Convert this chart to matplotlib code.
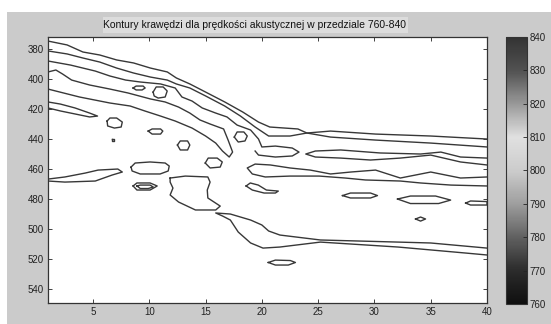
import matplotlib
matplotlib.use("Agg")
import matplotlib.pyplot as plt
from matplotlib.colors import LinearSegmentedColormap, Normalize
from matplotlib.cm import ScalarMappable
from matplotlib.patches import Rectangle

TITLE = "Kontury krawędzi dla prędkości akustycznej w przedziale 760-840"
x_ticks = [5, 10, 15, 20, 25, 30, 35, 40]
y_ticks = [380, 400, 420, 440, 460, 480, 500, 520, 540]
cbar_ticks = [760, 770, 780, 790, 800, 810, 820, 830, 840]
cbar_grays = [0.06, 0.17, 0.38, 0.62, 0.80, 0.88, 0.60, 0.32, 0.20]

# open contour lines, (column, depth) pairs
ridge_1 = [(1.0, 374.7), (2.7, 377.3), (4.1, 382), (5.6, 384), (7.1, 387.3), (8.6, 389.3),
           (10.1, 392.7), (11.6, 395.3), (12.4, 399.3), (13.6, 403.3), (15.0, 408.7),
           (16.7, 415.3), (18.3, 422), (19.7, 428.7), (20.7, 432), (23.2, 433.3),
           (24.0, 436), (26.1, 438.7), (30.1, 440.7), (35.0, 442.7), (40.0, 445.3)]
ridge_2 = [(1.0, 381.3), (2.7, 383.3), (4.1, 386), (5.6, 388.7), (7.1, 392.7), (8.6, 396),
           (10.1, 398.7), (11.6, 400.7), (12.4, 403.3), (13.6, 406), (15.0, 411.3),
           (16.7, 418), (18.1, 424.7), (19.4, 432), (20.6, 438), (22.5, 438), (24.0, 436),
           (26.1, 434.7), (30.1, 436.7), (35.0, 438), (40.0, 440)]
ridge_3 = [(1.0, 388), (3.0, 390.7), (5.2, 394.7), (6.5, 398), (7.9, 400.7), (9.2, 402),
           (11.0, 403.3), (12.3, 406), (12.9, 412), (13.8, 414.7), (14.7, 419.3),
           (15.9, 422.7), (16.9, 425.3), (17.8, 430.7), (19.0, 434), (19.7, 440),
           (20.0, 445.3), (21.2, 444.7), (22.7, 446), (23.3, 448.7), (22.7, 451.3),
           (21.2, 452), (19.7, 450.7), (19.4, 448)]
ridge_4 = [(1.0, 395.3), (1.7, 394), (2.3, 396.7), (3.1, 400.7), (4.7, 404), (6.5, 406.7),
           (8.1, 409.3), (10.1, 413.3), (11.4, 415.3), (12.6, 418.7), (13.6, 422.7),
           (14.5, 427.3), (15.4, 430), (16.6, 433.3), (17.0, 440.7), (17.4, 448.7),
           (17.1, 452), (16.5, 448), (15.9, 442.7), (15.0, 438), (13.8, 432.7),
           (12.3, 428), (11.0, 424.7), (9.6, 421.3), (8.3, 418), (6.5, 416),
           (3.8, 412), (1.0, 406.7)]
band_460 = [(40.0, 457.3), (37.65, 455.3), (35.0, 450.7), (32.3, 452.7), (29.65, 454),
            (27.0, 452.7), (24.75, 452), (23.9, 450), (24.75, 448), (27.0, 447.3),
            (30.5, 449.3), (34.1, 450), (35.9, 448.7), (37.65, 452), (40.0, 452.7)]
band_470 = [(40.0, 471.3), (36.8, 470.7), (34.1, 469.3), (32.3, 468), (29.2, 467.3),
            (27.4, 466), (25.1, 464.7), (22.5, 464.7), (20.3, 465.3), (19.15, 463.3),
            (18.7, 459.3), (19.4, 456.7), (20.75, 457.3), (22.5, 459.3), (24.3, 460.7),
            (26.1, 463.3), (27.9, 462), (30.1, 460.7), (32.3, 466), (35.0, 462),
            (37.65, 466), (40.0, 465.3)]
band_510 = [(40.0, 517.3), (38.1, 516), (32.1, 512), (25.2, 508.7), (21.6, 512),
            (20.1, 512.7), (19.0, 509.3), (17.9, 502), (17.2, 494), (16.5, 491.3),
            (15.9, 489.3), (17.2, 490), (19.0, 494), (20.0, 497.3), (20.6, 501.3),
            (21.6, 504), (25.2, 507.3), (32.1, 508.7), (35.0, 509.3), (40.0, 512.7)]

# closed contours (islands)
isl_left_420 = [(1.0, 415.3), (2.1, 416.7), (3.4, 419.3), (4.7, 422.7), (5.4, 424.7),
                (4.7, 425.3), (3.4, 423.3), (2.1, 421.3), (1.0, 419.3)]
isl_a = [(6.25, 428), (6.5, 426), (7.1, 426), (7.6, 428.7), (7.5, 432), (6.9, 432.7), (6.3, 431.3)]
isl_b = [(9.9, 434.7), (10.25, 433.3), (11.0, 433.3), (11.2, 434.7), (11.0, 436.7), (10.25, 436.7)]
isl_dot = [(6.7, 440.3), (6.9, 440.3), (6.9, 441), (6.7, 441)]
isl_c = [(12.5, 444), (12.75, 441.3), (13.4, 441.3), (13.6, 444), (13.4, 447.3), (12.75, 447.3)]
isl_d = [(8.56, 406), (8.83, 404.7), (9.45, 404.7), (9.63, 406), (9.36, 407.3), (8.83, 407.3)]
isl_e = [(10.34, 408.7), (10.61, 405.3), (11.23, 405.3), (11.59, 408), (11.41, 412),
         (10.79, 412.7), (10.43, 411.3)]
isl_f = [(17.55, 438.7), (17.8, 435.3), (18.4, 435.3), (18.7, 438), (18.5, 441.3), (17.9, 442)]
isl_g = [(14.97, 456), (15.23, 452.7), (16.03, 452.7), (16.48, 455.3), (16.3, 458.7), (15.4, 459.3)]
isl_h = [(8.38, 458.7), (8.74, 456), (10.07, 455.3), (11.41, 456), (11.77, 458),
         (11.68, 461.3), (10.96, 463.3), (9.19, 463.3), (8.47, 461.3)]
isl_ring_out = [(8.56, 471.3), (8.9, 469.3), (10.07, 469.3), (10.7, 471.3), (10.07, 474), (8.9, 474)]
isl_ring_in = [(8.9, 471.3), (9.2, 470.7), (10.07, 470.7), (10.35, 472), (9.9, 473), (9.2, 473)]
isl_left_465 = [(1.0, 466.7), (2.5, 465.3), (4.3, 462.7), (5.45, 460.7), (7.2, 460), (7.6, 462),
                (6.7, 464), (5.2, 468), (2.5, 468.7), (1.0, 468)]
isl_big = [(11.85, 466), (13.2, 464.7), (15.2, 465.3), (15.4, 468.7), (15.15, 474),
           (15.2, 479.3), (16.3, 484.7), (15.9, 487.3), (14.1, 487.3), (12.6, 482),
           (11.85, 477.3), (12.1, 472.7), (11.85, 468.7)]
isl_i = [(18.6, 471.3), (18.97, 469.3), (19.68, 470.7), (20.4, 474), (21.46, 474.7),
         (21.2, 476), (20.2, 476), (19.15, 474)]
isl_j = [(27.16, 477.7), (27.87, 476), (29.65, 476), (30.27, 477.7), (29.65, 479.3), (27.87, 479.3)]
isl_k = [(32.05, 480), (33.2, 478), (35.43, 478), (36.77, 480.7), (35.7, 483), (33.2, 483)]
isl_edge = [(38.1, 482.7), (38.54, 481.3), (40.0, 481.7), (40.0, 484), (38.54, 484)]
isl_l = [(33.65, 493.3), (34.1, 492), (34.54, 493.3), (34.1, 494.7)]
isl_m = [(20.57, 522.3), (21.2, 520.7), (22.53, 521), (22.98, 522.3), (22.35, 524), (21.2, 524)]

open_lines = [ridge_1, ridge_2, ridge_3, ridge_4, band_460, band_470, band_510]
islands = [isl_left_420, isl_a, isl_b, isl_dot, isl_c, isl_d, isl_e, isl_f, isl_g, isl_h,
           isl_ring_out, isl_ring_in, isl_left_465, isl_big, isl_i, isl_j, isl_k, isl_edge,
           isl_l, isl_m]

FONT = ["Liberation Sans", "DejaVu Sans"]
NARROW = ["Liberation Sans Narrow", "Liberation Sans", "DejaVu Sans"]
BG = "#cbcbcb"
LINE = "#383838"

fig = plt.figure(figsize=(5.51, 3.24), dpi=100, facecolor="white")
fig.patches.append(Rectangle((7 / 551, 0), 1, 312 / 324, transform=fig.transFigure,
                             facecolor=BG, edgecolor="none", zorder=-10))
fig.patches.append(Rectangle((103 / 551, 1 - 33 / 324), 305 / 551, 16 / 324,
                             transform=fig.transFigure, facecolor="#dcdcdc",
                             edgecolor="none", zorder=-5))
fig.text(255 / 551, 1 - 25 / 324, TITLE, ha="center", va="center",
         fontsize=7.5, family=NARROW, color="#111111")

ax = fig.add_axes([48 / 551, 21 / 324, 439 / 551, 266 / 324])
ax.set_facecolor("white")
for path in open_lines:
    xs, ys = zip(*path)
    ax.plot(xs, ys, color=LINE, lw=1.0, solid_joinstyle="round")
for path in islands:
    xs, ys = zip(*(path + path[:1]))
    ax.plot(xs, ys, color=LINE, lw=1.0, solid_joinstyle="round")

ax.set_xlim(1, 40)
ax.set_ylim(549.3, 372)
ax.set_xticks(x_ticks)
ax.set_yticks(y_ticks)
ax.tick_params(direction="in", length=3, width=0.6, top=True, right=True,
               labelsize=7, colors="#222222", pad=3)
for lab in ax.get_xticklabels() + ax.get_yticklabels():
    lab.set_family(FONT)
for sp in ax.spines.values():
    sp.set_color("#333333")
    sp.set_linewidth(0.9)

cmap = LinearSegmentedColormap.from_list(
    "edge_gray",
    [((v - 760) / 80, (g, g, g)) for v, g in zip(cbar_ticks, cbar_grays)])
sm = ScalarMappable(norm=Normalize(760, 840), cmap=cmap)
cax = fig.add_axes([506 / 551, 20 / 324, 21 / 551, 267 / 324])
cb = fig.colorbar(sm, cax=cax)
cb.set_ticks(cbar_ticks)
cb.outline.set_edgecolor("#333333")
cb.outline.set_linewidth(0.8)
cax.tick_params(direction="in", length=3, width=0.6, labelsize=7, colors="#222222", pad=2)
for lab in cax.get_yticklabels():
    lab.set_family(FONT)

fig.savefig("out.png", dpi=100, facecolor=fig.get_facecolor())
